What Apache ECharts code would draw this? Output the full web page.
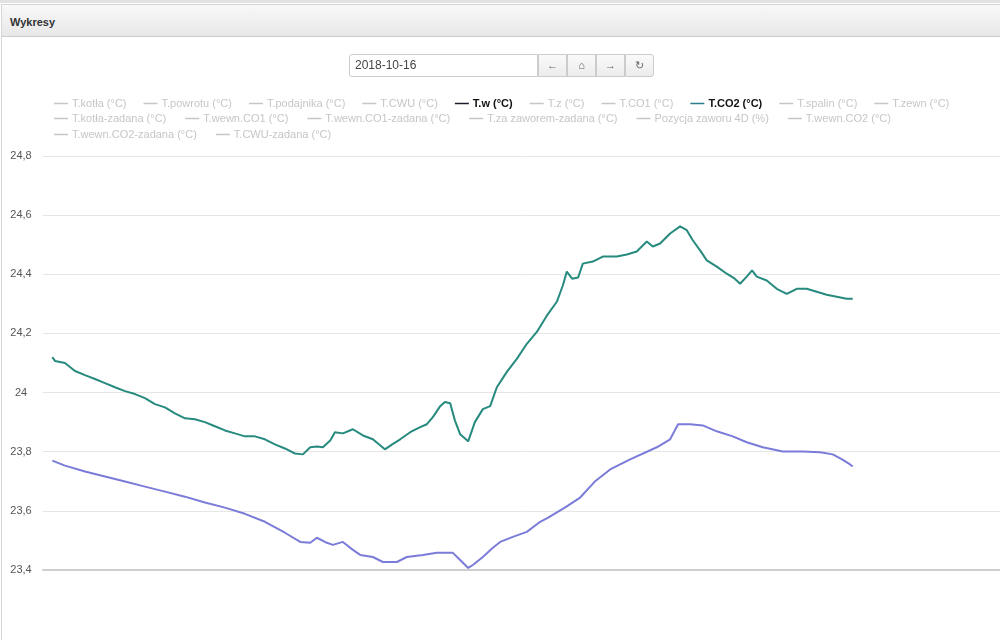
<!DOCTYPE html>
<html><head><meta charset="utf-8">
<script src="https://cdn.jsdelivr.net/npm/echarts@6/dist/echarts.min.js"></script>
<style>
html,body{margin:0;padding:0;background:#fff;width:1000px;height:640px;overflow:hidden;font-family:"Liberation Sans",Arial,sans-serif;}
#topstrip{position:absolute;left:0;top:0;width:1000px;height:3px;background:#e2e2e2;}
#panel{position:absolute;left:1px;top:4px;width:1005px;height:640px;border-left:1px solid #d6d6d6;border-top:1px solid #d6d6d6;}
#head{position:absolute;left:0;top:0;right:0;height:31px;background:linear-gradient(#f8f8f8,#e8e8e8);border-bottom:1px solid #cdcdcd;}
#head span{position:absolute;left:8px;top:11px;font-size:11px;font-weight:bold;color:#333;}
#chart{position:absolute;left:0;top:0;width:1000px;height:640px;}
#picker{position:absolute;left:349px;top:54px;height:23px;z-index:5;display:flex;}
#picker .inp{width:182px;height:21px;border:1px solid #ccc;border-radius:3px 0 0 3px;font-size:12px;color:#444;line-height:21px;padding-left:5px;box-sizing:content-box;background:#fff;}
#picker .btn{width:27px;height:21px;border:1px solid #ccc;background:linear-gradient(#fafafa,#ececec);font-size:11px;color:#666;text-align:center;line-height:21px;margin-left:0;}
#picker .btn.last{border-radius:0 3px 3px 0;}
</style></head>
<body>
<div id="topstrip"></div>
<div id="panel"><div id="head"><span>Wykresy</span></div></div>
<div id="chart"></div>
<div id="picker"><div class="inp">2018-10-16</div><div class="btn">←</div><div class="btn">⌂</div><div class="btn">→</div><div class="btn last">↻</div></div>
<script>
// Legend rows (series names)
const legendRow1 = ['T.kotła (°C)','T.powrotu (°C)','T.podajnika (°C)','T.CWU (°C)','T.w (°C)','T.z (°C)','T.CO1 (°C)','T.CO2 (°C)','T.spalin (°C)','T.zewn (°C)'];
const legendRow2 = ['T.kotła-zadana (°C)','T.wewn.CO1 (°C)','T.wewn.CO1-zadana (°C)','T.za zaworem-zadana (°C)','Pozycja zaworu 4D (%)','T.wewn.CO2 (°C)'];
const legendRow3 = ['T.wewn.CO2-zadana (°C)','T.CWU-zadana (°C)'];
const activeSeries = ['T.w (°C)','T.CO2 (°C)'];

// Y axis ticks
const yMin = 23.4, yMax = 24.8, yStep = 0.2;

// T.CO2 (°C) — time in minutes since midnight, value in °C
const co2Minutes = [14,18,33,48,63,78,93,108,123,138,153,168,183,198,213,228,243,258,273,288,303,318,333,348,363,378,390,401,411,420,431,438,450,465,480,495,513,524,536,551,566,576,585,596,603,611,618,626,638,648,660,671,681,696,711,726,741,756,771,780,786,794,803,810,825,840,861,876,891,906,915,926,941,956,966,975,986,996,1011,1026,1038,1046,1056,1064,1071,1086,1101,1116,1131,1146,1161,1176,1191,1206,1215];
const co2Values = [24.12,24.107,24.10,24.073,24.059,24.046,24.032,24.018,24.005,23.995,23.981,23.961,23.95,23.93,23.913,23.91,23.90,23.886,23.872,23.862,23.852,23.852,23.842,23.825,23.811,23.794,23.791,23.815,23.818,23.815,23.838,23.866,23.862,23.876,23.855,23.842,23.808,23.825,23.842,23.866,23.883,23.893,23.917,23.954,23.968,23.964,23.906,23.859,23.835,23.90,23.944,23.954,24.018,24.07,24.114,24.165,24.205,24.26,24.307,24.362,24.409,24.385,24.389,24.436,24.443,24.46,24.46,24.467,24.477,24.511,24.494,24.504,24.538,24.562,24.549,24.515,24.481,24.447,24.426,24.402,24.385,24.368,24.392,24.413,24.392,24.379,24.351,24.334,24.351,24.351,24.341,24.331,24.324,24.317,24.317];

// T.w (°C)
const wMinutes = [14,33,63,93,123,153,183,213,243,273,303,333,363,386,401,411,426,435,450,465,476,495,510,531,546,570,591,615,626,638,645,660,675,686,705,726,746,758,783,806,828,851,881,921,941,953,971,990,1011,1035,1056,1080,1110,1140,1166,1185,1199,1211,1215];
const wValues = [23.77,23.753,23.733,23.716,23.699,23.682,23.665,23.648,23.628,23.611,23.59,23.563,23.526,23.495,23.492,23.509,23.492,23.485,23.495,23.468,23.451,23.444,23.427,23.427,23.444,23.451,23.458,23.458,23.434,23.407,23.417,23.444,23.475,23.495,23.512,23.529,23.563,23.577,23.611,23.645,23.699,23.74,23.774,23.815,23.842,23.893,23.893,23.889,23.869,23.852,23.832,23.815,23.801,23.801,23.798,23.791,23.774,23.757,23.75];

const zip = (xs, ys) => xs.map((x, i) => [x, ys[i]]);
const seriesData = {
  'T.w (°C)': zip(wMinutes, wValues),
  'T.CO2 (°C)': zip(co2Minutes, co2Values)
};
const seriesColor = { 'T.w (°C)': '#7b7bd9', 'T.CO2 (°C)': '#278a7e' };
const legendIconColor = { 'T.w (°C)': '#1c1c2c', 'T.CO2 (°C)': '#2a7d8a' };

const allNames = legendRow1.concat(legendRow2, legendRow3);
const selected = {};
allNames.forEach(n => { selected[n] = activeSeries.indexOf(n) >= 0; });

function makeLegend(names, top, gap) {
  return {
    top: top, left: 49, itemGap: gap, itemWidth: 14, itemHeight: 1.5, icon: 'rect',
    inactiveColor: '#c6c6c6', selected: selected,
    textStyle: { fontSize: 11, color: '#111', fontFamily: 'Liberation Sans, Arial, sans-serif', padding: [0,0,0,-1] },
    data: names.map(n => activeSeries.indexOf(n) >= 0
      ? { name: n, itemStyle: { color: legendIconColor[n] }, textStyle: { fontWeight: 'bold', color: '#111' } }
      : { name: n })
  };
}

const chart = echarts.init(document.getElementById('chart'));
chart.setOption({
  animation: false,
  legend: [makeLegend(legendRow1, 93, 17), makeLegend(legendRow2, 108, 19), makeLegend(legendRow3, 124, 19)],
  grid: { left: 43, right: 0, top: 156, bottom: 70 },
  xAxis: {
    type: 'value', min: 0, max: 1436,
    axisLine: { show: true, lineStyle: { color: '#cfcfcf', width: 2 } },
    axisTick: { show: false }, axisLabel: { show: false }, splitLine: { show: false }
  },
  yAxis: {
    type: 'value', min: yMin, max: yMax, interval: yStep,
    axisLine: { show: false }, axisTick: { show: false },
    axisLabel: { align: 'center', margin: 22, color: '#555', fontSize: 11, fontFamily: 'Liberation Sans, Arial, sans-serif',
      formatter: v => String(Math.round(v * 10) / 10).replace('.', ',') },
    splitLine: { lineStyle: { color: '#e6e6e6', width: 1 } }
  },
  series: allNames.map(n => ({
    name: n, type: 'line', showSymbol: false, symbol: 'none',
    data: seriesData[n] || [],
    color: seriesColor[n] || '#999',
    lineStyle: { width: 2, color: seriesColor[n] || '#999' }
  }))
});
</script>
</body></html>
